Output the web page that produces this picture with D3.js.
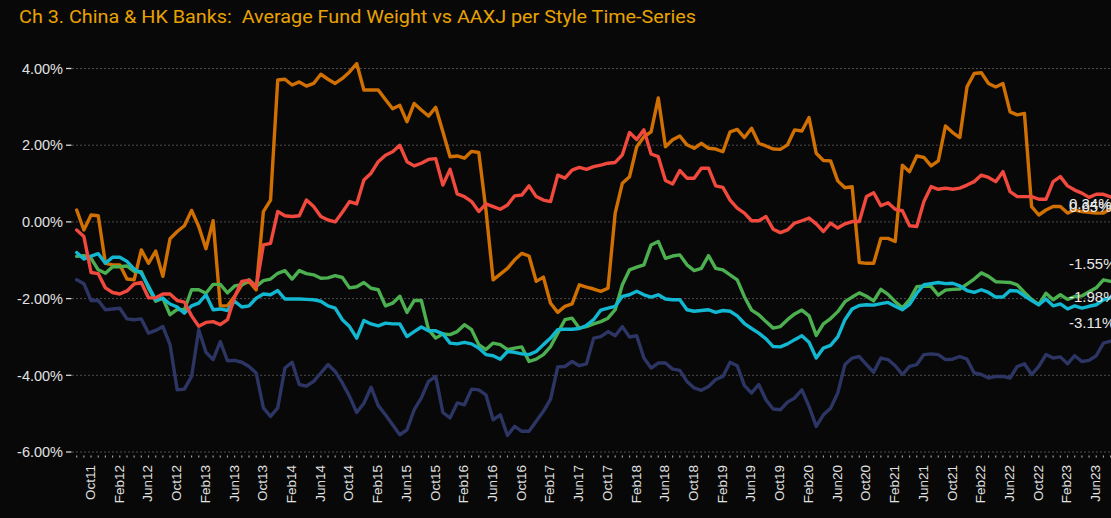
<!DOCTYPE html>
<html>
<head>
<meta charset="utf-8">
<script src="https://cdn.jsdelivr.net/npm/d3@7"></script>
<style>
  html, body { margin: 0; padding: 0; background: #080808; }
  svg { display: block; }
</style>
</head>
<body>
<svg id="chart" width="1111" height="518"></svg>
<script>
// monthly categories, Aug 2011 .. Aug 2023
const months = d3.timeMonth.range(new Date(2011, 7, 1), new Date(2023, 8, 1)).map(d3.timeFormat("%b%y"));

const tickLabels = ["Oct11", "Feb12", "Jun12", "Oct12", "Feb13", "Jun13", "Oct13", "Feb14", "Jun14",
  "Oct14", "Feb15", "Jun15", "Oct15", "Feb16", "Jun16", "Oct16", "Feb17", "Jun17", "Oct17", "Feb18",
  "Jun18", "Oct18", "Feb19", "Jun19", "Oct19", "Feb20", "Jun20", "Oct20", "Feb21", "Jun21", "Oct21",
  "Feb22", "Jun22", "Oct22", "Feb23", "Jun23"];

const yTicks = [-6, -4, -2, 0, 2, 4];

// average fund weight vs AAXJ, % (one value per month)
const orangeSeries = [
  0.31, -0.21, 0.18, 0.16, -1.08, -1.12, -1.12, -1.49, -1.51, -0.73,
  -1.08, -0.76, -1.42, -0.44, -0.25, -0.10, 0.30, -0.12, -0.70, 0.03,
  -2.19, -2.19, -1.94, -1.64, -1.55, -1.77, 0.27, 0.57, 3.70, 3.72,
  3.57, 3.65, 3.54, 3.61, 3.85, 3.72, 3.61, 3.74, 3.91, 4.13,
  3.44, 3.44, 3.44, 3.19, 2.95, 3.04, 2.61, 3.09, 2.92, 2.76,
  2.99, 2.35, 1.70, 1.72, 1.66, 1.84, 1.81, 0.31, -1.51, -1.36,
  -1.21, -0.99, -0.82, -0.89, -1.55, -1.44, -2.12, -2.36, -2.20, -2.14,
  -1.64, -1.70, -1.75, -1.81, -1.73, 0.23, 1.01, 1.18, 1.96, 2.22,
  2.35, 3.23, 1.96, 2.14, 2.24, 2.01, 1.92, 2.05, 1.92, 1.90,
  1.83, 2.35, 2.41, 2.20, 2.44, 2.05, 1.98, 1.90, 1.89, 2.01,
  2.40, 2.37, 2.72, 1.79, 1.60, 1.59, 1.07, 0.89, 0.92, -1.06,
  -1.08, -1.08, -0.43, -0.43, -0.51, 1.48, 1.31, 1.72, 1.68, 1.46,
  1.59, 2.50, 2.33, 2.20, 3.52, 3.87, 3.89, 3.61, 3.52, 3.61,
  2.87, 2.79, 2.83, 0.40, 0.18, 0.31, 0.40, 0.40, 0.23, 0.31,
  0.27, 0.25, 0.23, 0.23, 0.34
];

const redSeries = [
  -0.21, -0.38, -1.32, -1.35, -1.72, -1.84, -1.88, -1.80, -1.62, -1.58,
  -1.98, -1.98, -1.88, -1.88, -2.05, -2.09, -2.45, -2.72, -2.62, -2.60,
  -2.68, -2.55, -1.95, -1.55, -1.52, -1.70, -0.60, -0.56, 0.27, 0.16,
  0.14, 0.16, 0.57, 0.40, 0.14, 0.05, 0.00, 0.25, 0.53, 0.47,
  1.09, 1.27, 1.57, 1.74, 1.83, 2.00, 1.57, 1.46, 1.53, 1.63,
  1.65, 0.96, 1.37, 0.73, 0.66, 0.53, 0.27, 0.47, 0.40, 0.33,
  0.44, 0.68, 0.70, 0.94, 0.66, 0.57, 0.53, 1.22, 1.14, 1.35,
  1.42, 1.37, 1.44, 1.48, 1.53, 1.55, 1.75, 2.33, 2.15, 2.40,
  1.77, 1.70, 1.08, 0.99, 1.34, 1.14, 1.14, 1.40, 1.40, 0.94,
  0.90, 0.57, 0.36, 0.23, 0.03, 0.03, 0.14, -0.19, -0.28, -0.21,
  -0.03, 0.03, 0.10, -0.05, -0.25, -0.03, -0.16, -0.05, 0.01, 0.01,
  0.66, 0.76, 0.42, 0.50, 0.33, 0.29, -0.10, -0.12, 0.53, 0.92,
  0.85, 0.88, 0.85, 0.88, 0.96, 1.05, 1.22, 1.16, 1.05, 1.31,
  0.79, 0.66, 0.66, 0.66, 0.59, 0.59, 1.05, 1.18, 0.94, 0.83,
  0.75, 0.64, 0.72, 0.72, 0.65
];

const greenSeries = [
  -0.90, -0.88, -0.95, -1.25, -1.34, -1.17, -1.17, -1.15, -1.29, -1.30,
  -1.72, -2.07, -1.99, -2.42, -2.28, -2.29, -1.77, -1.77, -1.86, -1.63,
  -1.63, -1.85, -1.67, -1.64, -1.51, -1.68, -1.53, -1.49, -1.34, -1.27,
  -1.49, -1.27, -1.35, -1.38, -1.47, -1.46, -1.40, -1.45, -1.72, -1.69,
  -1.58, -1.73, -1.77, -2.19, -2.12, -1.94, -2.36, -2.05, -2.05, -2.81,
  -3.03, -2.92, -2.94, -2.86, -2.68, -2.81, -3.20, -3.33, -3.16, -3.20,
  -3.33, -3.29, -3.26, -3.64, -3.58, -3.46, -3.25, -2.90, -2.55, -2.51,
  -2.77, -2.73, -2.66, -2.60, -2.51, -2.29, -1.64, -1.25, -1.18, -1.12,
  -0.60, -0.51, -0.95, -0.89, -0.86, -1.12, -1.27, -1.21, -0.88, -1.21,
  -1.25, -1.38, -1.51, -1.95, -2.30, -2.42, -2.60, -2.77, -2.73, -2.55,
  -2.40, -2.30, -2.45, -2.96, -2.66, -2.52, -2.34, -2.08, -1.96, -1.85,
  -1.94, -2.06, -1.76, -1.89, -2.08, -2.24, -2.03, -1.69, -1.67, -1.68,
  -1.91, -1.78, -1.76, -1.75, -1.62, -1.49, -1.33, -1.42, -1.56, -1.57,
  -1.58, -1.64, -1.84, -2.02, -2.16, -1.86, -2.03, -1.90, -2.02, -1.95,
  -1.93, -1.82, -1.72, -1.51, -1.55
];

const cyanSeries = [
  -0.80, -0.97, -0.89, -0.83, -1.08, -0.92, -0.92, -1.03, -1.23, -1.34,
  -1.68, -2.03, -1.99, -2.14, -2.22, -2.38, -2.19, -2.12, -1.90, -2.29,
  -2.27, -2.31, -2.07, -2.22, -2.19, -1.99, -1.88, -1.90, -1.79, -2.01,
  -2.01, -2.01, -2.02, -2.03, -2.07, -2.19, -2.25, -2.55, -2.73, -3.03,
  -2.57, -2.66, -2.71, -2.64, -2.66, -2.66, -2.99, -2.86, -2.74, -2.84,
  -2.84, -2.92, -3.16, -3.18, -3.14, -3.18, -3.29, -3.46, -3.49, -3.58,
  -3.38, -3.40, -3.44, -3.46, -3.38, -3.20, -3.03, -2.81, -2.80, -2.80,
  -2.78, -2.70, -2.55, -2.30, -2.25, -2.20, -1.94, -1.90, -1.81, -1.90,
  -1.96, -1.90, -2.01, -2.03, -2.03, -2.29, -2.33, -2.31, -2.29, -2.36,
  -2.31, -2.33, -2.45, -2.65, -2.78, -2.90, -3.05, -3.25, -3.26, -3.18,
  -3.07, -2.97, -3.14, -3.55, -3.29, -3.22, -3.00, -2.55, -2.27, -2.18,
  -2.16, -2.17, -2.13, -2.10, -2.20, -2.29, -2.15, -1.86, -1.64, -1.61,
  -1.58, -1.61, -1.60, -1.67, -1.79, -1.84, -1.77, -1.84, -1.96, -1.96,
  -1.79, -1.80, -1.93, -2.05, -2.16, -2.01, -2.19, -2.14, -2.27, -2.19,
  -2.25, -2.20, -2.16, -2.03, -1.98
];

const navySeries = [
  -1.51, -1.61, -2.05, -2.05, -2.29, -2.27, -2.25, -2.53, -2.55, -2.53,
  -2.90, -2.83, -2.73, -3.20, -4.38, -4.36, -4.03, -2.81, -3.40, -3.59,
  -3.12, -3.62, -3.61, -3.66, -3.77, -3.94, -4.85, -5.07, -4.85, -3.81,
  -3.66, -4.24, -4.28, -4.16, -3.94, -3.72, -3.90, -4.20, -4.55, -4.97,
  -4.73, -4.31, -4.79, -5.03, -5.29, -5.55, -5.42, -4.90, -4.59, -4.16,
  -4.03, -4.97, -5.11, -4.72, -4.77, -4.36, -4.38, -4.51, -5.16, -5.03,
  -5.57, -5.33, -5.46, -5.46, -5.20, -4.94, -4.62, -3.78, -3.77, -3.64,
  -3.75, -3.70, -3.03, -2.99, -2.86, -2.97, -2.73, -3.00, -2.97, -3.55,
  -3.81, -3.68, -3.68, -3.84, -3.87, -4.16, -4.33, -4.39, -4.29, -4.11,
  -4.03, -3.66, -3.75, -4.27, -4.46, -4.24, -4.64, -4.88, -4.90, -4.70,
  -4.59, -4.38, -4.81, -5.33, -5.03, -4.86, -4.46, -3.72, -3.55, -3.51,
  -3.72, -3.92, -3.55, -3.59, -3.75, -3.98, -3.77, -3.72, -3.46, -3.44,
  -3.46, -3.59, -3.58, -3.51, -3.58, -3.94, -3.98, -4.07, -4.03, -4.03,
  -4.07, -3.77, -3.70, -3.98, -3.77, -3.46, -3.55, -3.52, -3.70, -3.49,
  -3.64, -3.61, -3.49, -3.16, -3.11
];

// drawing order and look
const series = [
  { values: navySeries,   color: "#2c3563", labelDy: -13 },
  { values: orangeSeries, color: "#d06f02", labelDy: 0 },
  { values: greenSeries,  color: "#4caf50", labelDy: -12 },
  { values: cyanSeries,   color: "#12b8d2", labelDy: 4.5 },
  { values: redSeries,    color: "#f1493d", labelDy: 15 }
];

// percent with a plain hyphen for negatives, as in the original
const pct = v => (v < 0 ? "-" : "") + Math.abs(v).toFixed(2) + "%";

const svg = d3.select("#chart");
const W = 1111, H = 518;

svg.append("rect").attr("width", W).attr("height", H).attr("fill", "#080808");

const x = d3.scalePoint().domain(months).range([76.7, 1110.6]);
const y = d3.scaleLinear().domain([-6, 4]).range([452, 68.5]);

// title
svg.append("text")
  .attr("x", 19).attr("y", 23)
  .style("white-space", "pre")
  .attr("font-family", "Roboto, 'Liberation Sans', sans-serif")
  .attr("font-size", 19)
  .attr("fill", "#e8a200")
  .attr("textLength", 677)
  .attr("lengthAdjust", "spacingAndGlyphs")
  .text("Ch 3. China & HK Banks:  Average Fund Weight vs AAXJ per Style Time-Series");

// horizontal gridlines
svg.append("g").selectAll("line").data(yTicks).enter()
  .append("line")
  .attr("x1", 72).attr("x2", W)
  .attr("y1", d => y(d)).attr("y2", d => y(d))
  .attr("stroke", "#4d4d4d")
  .attr("stroke-width", 1)
  .attr("stroke-dasharray", "2,2");

// y axis: label plus a small dash
const yAxis = svg.append("g");
yAxis.selectAll("line").data(yTicks).enter()
  .append("line")
  .attr("x1", 66).attr("x2", 71.5)
  .attr("y1", d => y(d)).attr("y2", d => y(d))
  .attr("stroke", "#d8d8d8").attr("stroke-width", 1.3);
yAxis.selectAll("text").data(yTicks).enter()
  .append("text")
  .attr("x", 63).attr("y", d => y(d)).attr("dy", "0.36em")
  .attr("text-anchor", "end")
  .attr("font-family", "'Liberation Sans', Arial, sans-serif")
  .attr("font-size", 14.5)
  .attr("fill", "#e2e2e2")
  .text(pct);

// x axis: a tick dot under every month, labels every fourth month
const xAxis = svg.append("g");
xAxis.selectAll("line").data(months).enter()
  .append("line")
  .attr("x1", d => x(d)).attr("x2", d => x(d))
  .attr("y1", 455.5).attr("y2", 457.5)
  .attr("stroke", "#a0a0a0").attr("stroke-width", 1.2);
xAxis.selectAll("text").data(tickLabels).enter()
  .append("text")
  .attr("transform", d => `translate(${x(d) - 1},465) rotate(-90)`)
  .attr("dy", "0.36em")
  .attr("text-anchor", "end")
  .attr("font-family", "'Liberation Sans', Arial, sans-serif")
  .attr("font-size", 13.5)
  .attr("fill", "#e2e2e2")
  .text(d => d);

// lines
const line = d3.line()
  .x((d, i) => x(months[i]))
  .y(d => y(d));

svg.append("g").selectAll("path").data(series).enter()
  .append("path")
  .attr("d", s => line(s.values))
  .attr("fill", "none")
  .attr("stroke", s => s.color)
  .attr("stroke-width", 3.4)
  .attr("stroke-linejoin", "round")
  .attr("stroke-linecap", "round");

// end-of-series value labels
svg.append("g").selectAll("text").data(series).enter()
  .append("text")
  .attr("x", 1069)
  .attr("y", s => y(s.values[s.values.length - 1]) + s.labelDy)
  .attr("font-family", "'Liberation Sans', Arial, sans-serif")
  .attr("font-size", 15)
  .attr("fill", "#e8e8e8")
  .text(s => pct(s.values[s.values.length - 1]));
</script>
</body>
</html>
